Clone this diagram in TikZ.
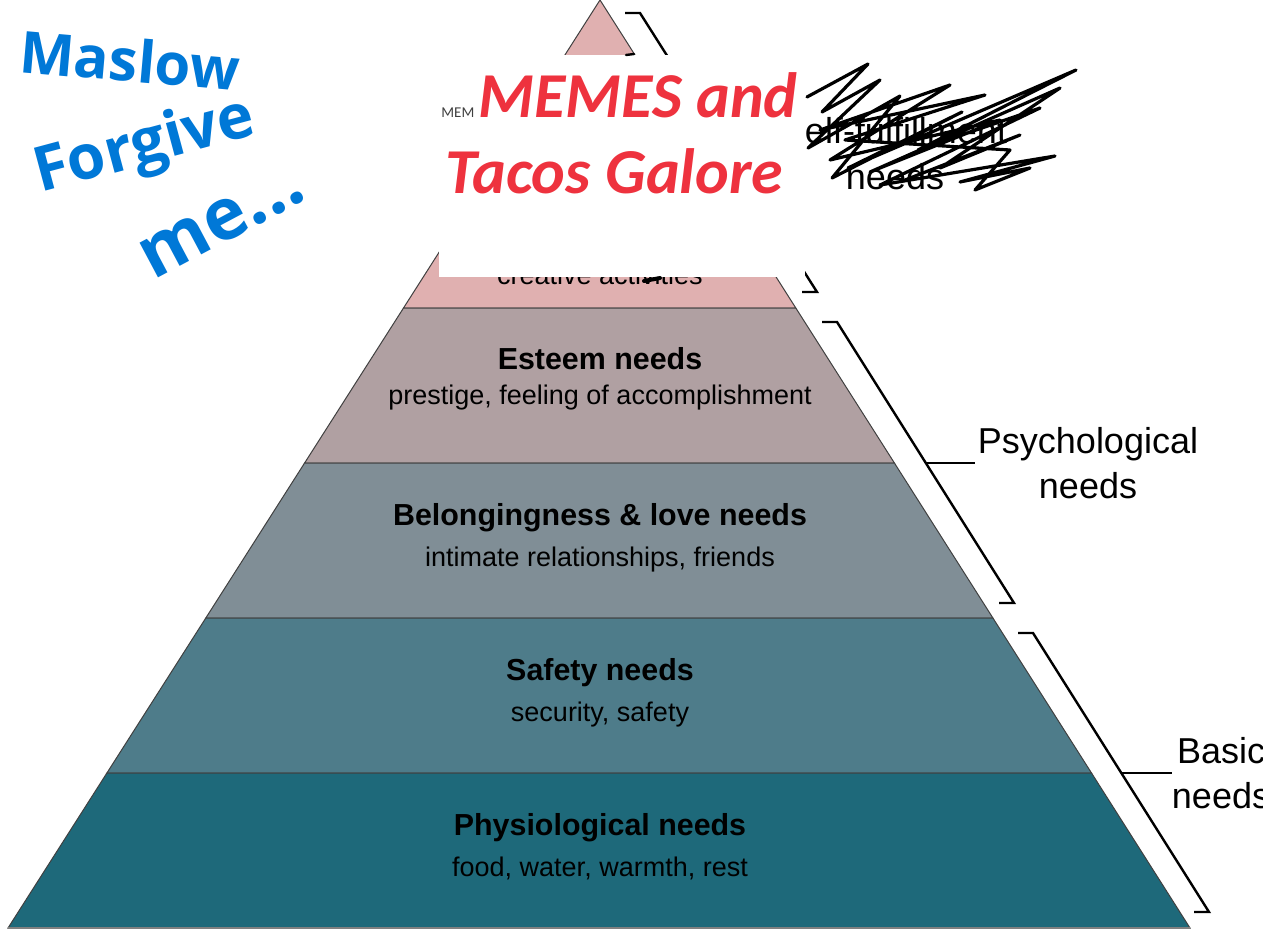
\documentclass[tikz,border=0pt]{standalone}
\usepackage{fontspec}
\setmainfont{Liberation Sans}
\newfontfamily\memefont{Carlito}
\newfontfamily\handfont{Open Sans}
\definecolor{topc}{RGB}{224,176,176}
\definecolor{estc}{RGB}{176,160,162}
\definecolor{belc}{RGB}{128,142,150}
\definecolor{safc}{RGB}{78,124,138}
\definecolor{phyc}{RGB}{30,105,122}
\definecolor{memered}{RGB}{238,50,62}
\definecolor{handblue}{RGB}{0,120,215}
\tikzset{
  layer/.style={draw=black!75, line width=0.5pt},
  head/.style={anchor=base, inner sep=0pt, font=\fontsize{15.2}{18}\selectfont\bfseries},
  sub/.style={anchor=base, inner sep=0pt, font=\fontsize{13.5}{16}\selectfont},
  side/.style={anchor=base, inner sep=0pt, font=\fontsize{18}{22}\selectfont},
  bracket/.style={draw=black, line width=1.2pt},
  meme/.style={anchor=base west, inner sep=0pt, text=memered, font=\memefont\fontsize{32}{38}\selectfont\bfseries\itshape},
  hand/.style={inner sep=0pt, text=handblue, font=\handfont\bfseries},
  scribble/.style={draw=black, line width=1.6pt, line join=round, line cap=round}
}
\begin{document}
\begin{tikzpicture}[x=0.5pt,y=-0.5pt]
\useasboundingbox (0,0) rectangle (1263,948);
\clip (0,0) rectangle (1263,948);
\fill[white] (0,0) rectangle (1263,948);
% pyramid layers
\draw[layer, fill=topc] (600,0) -- (795.8,308) -- (403.5,308) -- cycle;
\draw[layer, fill=estc] (403.5,308) -- (795.8,308) -- (894.4,463) -- (304.6,463) -- cycle;
\draw[layer, fill=belc] (304.6,463) -- (894.4,463) -- (992.9,618) -- (205.8,618) -- cycle;
\draw[layer, fill=safc] (205.8,618) -- (992.9,618) -- (1091.5,773) -- (106.9,773) -- cycle;
\draw[layer, fill=phyc] (106.9,773) -- (1091.5,773) -- (1190,928) -- (8,928) -- cycle;
\draw[gray, line width=0.8pt] (8,928) -- (1190,928);
% layer texts
\node[sub] (crea) at (600,284) {creative activities};
\node[head] (est) at (600,369) {Esteem needs};
\node[sub] (ests) at (600,404) {prestige, feeling of accomplishment};
\node[head] (bel) at (600,525) {Belongingness \& love needs};
\node[sub] (bels) at (600,566) {intimate relationships, friends};
\node[head] (saf) at (600,680) {Safety needs};
\node[sub] (safs) at (600,721) {security, safety};
\node[head] (phy) at (600,835) {Physiological needs};
\node[sub] (phys) at (600,876) {food, water, warmth, rest};
% brackets
\coordinate (b1a) at (625,13); \coordinate (b1b) at (640,13);
\coordinate (b1c) at (817,292); \coordinate (b1d) at (802,292);
\coordinate (b1m) at (728,153); \coordinate (b1t) at (778,153);
\draw[bracket] (b1a) -- (b1b) -- (b1c) -- (b1d);
\draw[bracket] (b1m) -- (b1t);
\coordinate (b2a) at (822,322); \coordinate (b2b) at (837,322);
\coordinate (b2c) at (1014,603); \coordinate (b2d) at (999,603);
\coordinate (b2m) at (926,463); \coordinate (b2t) at (975,463);
\draw[bracket] (b2a) -- (b2b) -- (b2c) -- (b2d);
\draw[bracket] (b2m) -- (b2t);
\coordinate (b3a) at (1018,633); \coordinate (b3b) at (1033,633);
\coordinate (b3c) at (1209,912); \coordinate (b3d) at (1194,912);
\coordinate (b3m) at (1122,773); \coordinate (b3t) at (1172,773);
\draw[bracket] (b3a) -- (b3b) -- (b3c) -- (b3d);
\draw[bracket] (b3m) -- (b3t);
% side labels
\node[side] (sf1) at (894,143) {Self-fulfillment};
\node[side] (sf2) at (895,189) {needs};
\node[side] (ps1) at (1088,453) {Psychological};
\node[side] (ps2) at (1088,498) {needs};
\node[side] (ba1) at (1221,763) {Basic};
\node[side] (ba2) at (1221,808) {needs};
% white box with meme title
\fill[white] (439,55) rectangle (805,277);
\node[anchor=base west, inner sep=0pt, text=black!75, font=\memefont\fontsize{7.5}{9}\selectfont] (mem) at (441,117) {MEM};
\node[meme] (m1) at (478,117) {MEMES and};
\node[meme] (m2) at (445,193) {Tacos Galore};
% small marks
\draw[scribble, line width=2pt] (644,281) -- (660,278);
\draw[scribble, line width=1.2pt] (626,55) -- (634,54);
% scribble over self-fulfillment
\draw[scribble] (807,97) -- (868,64) -- (822,112) -- (880,80) -- (808,148) -- (900,96)
  -- (832,178) -- (962,112) -- (848,168) -- (1076,70) -- (918,150) -- (1040,108)
  -- (880,185) -- (1055,156) -- (960,182) -- (1030,168) -- (975,190)
  -- (1010,150) -- (845,140) -- (985,95) -- (820,130) -- (950,85) -- (830,160)
  -- (1000,120) -- (870,172) -- (1060,88) -- (940,168) -- (1020,135) -- (905,180);
% handwriting
\node[hand, rotate=-5, font=\handfont\bfseries\fontsize{29}{34}\selectfont] (hw1) at (130,60) {Maslow};
\node[hand, rotate=15, font=\handfont\bfseries\fontsize{31}{36}\selectfont] (hw2) at (145,148) {Forgive};
\node[hand, rotate=28, font=\handfont\bfseries\fontsize{36}{42}\selectfont] (hw3) at (222,222) {me...};
\end{tikzpicture}
\end{document}
